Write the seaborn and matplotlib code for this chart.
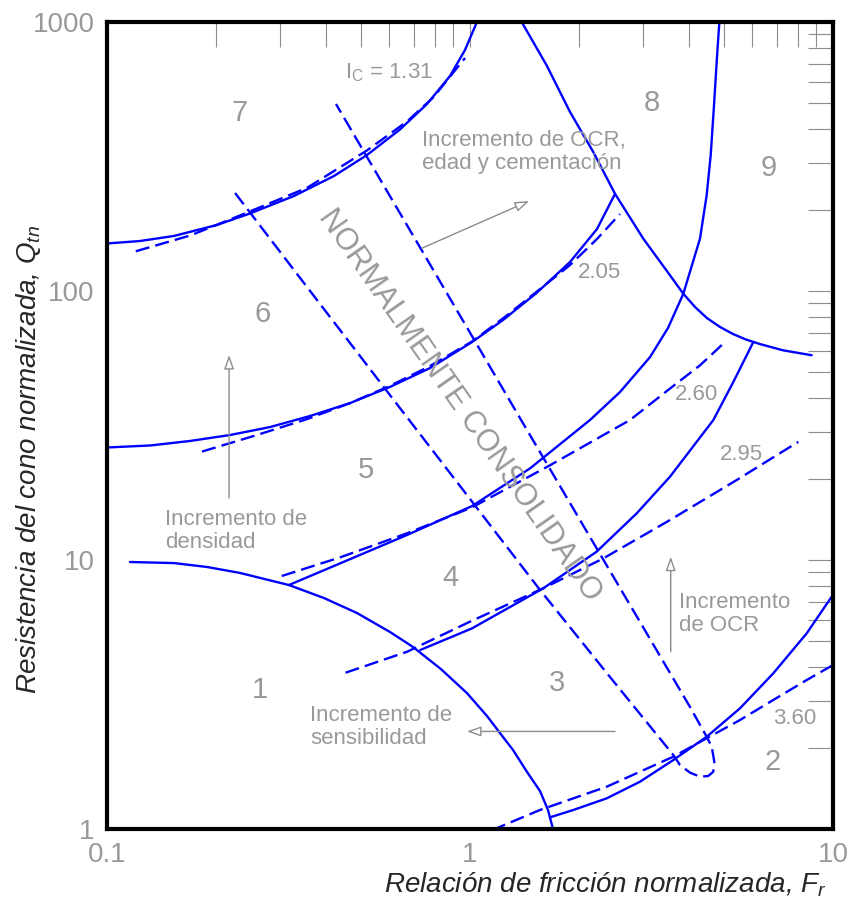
import numpy as np
import matplotlib
matplotlib.use("Agg")
import matplotlib.pyplot as plt
from matplotlib.ticker import LogLocator, NullFormatter
import seaborn as sns

# ---- Zone boundaries (solid), normalized friction ratio Fr (%) vs Qtn ----
b76_fr = [0.100, 0.1233, 0.153, 0.2009, 0.2477, 0.3275, 0.4219, 0.5203, 0.6413, 0.7613, 0.881, 0.9687, 1.045]
b76_q = [150.2, 153.4, 160.2, 176, 194.2, 225.6, 267.6, 320.3, 398.5, 495.6, 630, 787, 1000]

b65_fr = [0.100, 0.1314, 0.1693, 0.2183, 0.2812, 0.3624, 0.467, 0.602, 0.7757, 1.013, 1.233, 1.53, 1.886, 2.238, 2.508]
b65_q = [26.2, 26.65, 27.7, 29.15, 31.2, 34.3, 38.3, 44.0, 51.7, 64.6, 78.0, 98.7, 128.2, 170, 229.4]

b54_fr = [0.317, 0.439, 0.671, 1.013, 1.463, 2.141, 2.589, 3.133, 3.512, 3.870, 4.301, 4.487, 4.603, 4.701, 4.781, 4.863]
b54_q = [8.07, 9.72, 12.39, 15.87, 21.9, 33.15, 42.1, 56.8, 72.9, 97.7, 156.5, 226.8, 319.4, 490, 710, 1000]

b43_fr = [0.730, 1.013, 1.592, 2.233, 2.878, 3.556, 4.682, 5.314, 6.032]
b43_q = [4.63, 5.57, 7.85, 10.74, 14.9, 20.4, 33.15, 45.9, 64.6]

b89_fr = [1.388, 1.626, 1.886, 2.186, 2.508, 3.002, 3.556, 3.869, 4.168, 4.496, 4.884, 5.304, 5.758, 6.293, 7.28, 8.737]
b89_q = [1000, 690, 463, 328.6, 230, 156.5, 114.4, 97.7, 87.2, 79.3, 73.5, 69.2, 66.0, 63.5, 60.2, 57.7]

b1_fr = [0.1157, 0.153, 0.1886, 0.2325, 0.3172, 0.3961, 0.4884, 0.602, 0.6966, 0.832, 0.981,
         1.114, 1.209, 1.314, 1.436, 1.559, 1.640, 1.693]
b1_q = [9.83, 9.74, 9.42, 8.95, 8.07, 7.22, 6.35, 5.40, 4.75, 3.93, 3.20,
        2.63, 2.275, 1.966, 1.629, 1.384, 1.177, 1.0]

b2_fr = [1.661, 1.926, 2.380, 2.940, 3.632, 4.488, 5.544, 6.846, 8.465, 10.13]
b2_q = [1.105, 1.177, 1.30, 1.499, 1.805, 2.203, 2.81, 3.79, 5.34, 7.62]

# ---- Ic contours (dashed) ----
ic131_fr = [0.120, 0.170, 0.248, 0.356, 0.520, 0.671, 0.794, 0.902, 0.969]
ic131_q = [140.5, 161, 197.8, 242, 333, 427, 526, 652, 735]

ic205_fr = [0.1827, 0.2557, 0.3556, 0.467, 0.602, 0.7757, 1.013, 1.248, 1.559, 1.886, 2.238, 2.589]
ic205_q = [25.3, 29.0, 33.4, 38.3, 44.4, 52.6, 64.9, 80.1, 101.7, 124.9, 156.1, 193.3]

ic260_fr = [0.303, 0.439, 0.671, 1.013, 1.661, 2.760, 3.556, 4.30, 5.04]
ic260_q = [8.72, 10.23, 12.57, 15.69, 22.5, 33.15, 43.4, 52.9, 64.6]

ic295_fr = [0.454, 0.671, 1.0, 1.592, 2.330, 3.556, 5.428, 8.026]
ic295_q = [3.81, 4.56, 5.90, 7.85, 10.14, 14.08, 19.83, 27.5]

ic360_fr = [1.150, 1.559, 2.380, 3.632, 4.488, 5.544, 6.846, 8.465, 10.13]
ic360_q = [0.99, 1.177, 1.436, 1.857, 2.174, 2.542, 3.017, 3.58, 4.11]

# ---- Normally consolidated band (dashed, closed at the bottom) ----
nc_fr = [0.2253, 0.340, 0.6413, 1.0, 1.559, 2.43, 3.632, 3.789, 4.037, 4.30, 4.533,
         4.68, 4.71, 4.633, 4.488, 4.037, 2.940, 2.009, 1.373, 1.0, 0.728, 0.530, 0.4274]
nc_q = [231.4, 112, 36.7, 16.86, 7.74, 3.674, 1.884, 1.729, 1.62, 1.565, 1.574,
        1.633, 1.779, 2.023, 2.203, 2.842, 5.884, 14.08, 33.7, 70.0, 145.4, 301.8, 495.6]

# ---- Labels ----
zone_names = ["1", "2", "3", "4", "5", "6", "7", "8", "9"]
zone_fr = [0.264, 6.834, 1.737, 0.881, 0.517, 0.269, 0.2325, 3.172, 6.665]
zone_q = [3.29, 1.774, 3.49, 8.57, 21.6, 82.1, 459, 500, 286.6]

ic_names = [r"$\mathrm{I_C}$ = 1.31", "2.05", "2.60", "2.95", "3.60"]
ic_fr = [0.5965, 2.281, 4.22, 5.58, 7.86]
ic_q = [646, 116.7, 41.1, 24.6, 2.586]

x_ticks = [0.1, 1, 10]
x_ticklabels = ["0.1", "1", "10"]
y_ticks = [1, 10, 100, 1000]
y_ticklabels = ["1", "10", "100", "1000"]

BLUE = "#0000ff"
GRAY = "#999999"
ARROW_GRAY = "#8c8c8c"

sns.set_style("white")
plt.rcParams["font.family"] = ["Liberation Sans", "DejaVu Sans"]
plt.rcParams["mathtext.fontset"] = "custom"
plt.rcParams["mathtext.rm"] = "Liberation Sans"
plt.rcParams["mathtext.it"] = "Liberation Sans:italic"

fig = plt.figure(figsize=(8.48, 9.08), dpi=100)
ax = fig.add_axes([107 / 848, 1 - 829 / 908, 726 / 848, 807 / 908])
ax.set_xscale("log")
ax.set_yscale("log")

solid_curves = [(b76_fr, b76_q), (b65_fr, b65_q), (b54_fr, b54_q), (b43_fr, b43_q),
                (b89_fr, b89_q), (b1_fr, b1_q), (b2_fr, b2_q)]
dashed_curves = [(ic131_fr, ic131_q), (ic205_fr, ic205_q), (ic260_fr, ic260_q),
                 (ic295_fr, ic295_q), (ic360_fr, ic360_q), (nc_fr, nc_q)]

for fr, q in solid_curves:
    sns.lineplot(x=fr, y=q, ax=ax, sort=False, estimator=None, color=BLUE, lw=1.7)
for fr, q in dashed_curves:
    sns.lineplot(x=fr, y=q, ax=ax, sort=False, estimator=None, color=BLUE, lw=1.7,
                 linestyle=(0, (6, 2.6)))

ax.set_xlim(0.1, 10)
ax.set_ylim(1, 1000)

ax.set_xticks(x_ticks, labels=x_ticklabels)
ax.set_yticks(y_ticks, labels=y_ticklabels)
for axis in (ax.xaxis, ax.yaxis):
    axis.set_minor_locator(LogLocator(base=10, subs=np.arange(2, 10)))
    axis.set_minor_formatter(NullFormatter())
ax.tick_params(which="both", direction="in", length=18, width=0.8, color=ARROW_GRAY,
               top=True, right=True, labelsize=20, labelcolor=GRAY, pad=9)
for s in ax.spines.values():
    s.set_linewidth(3)
    s.set_color("black")
ax.grid(False)

ax.set_xlabel(r"Relación de fricción normalizada, $F_r$", fontsize=20, style="italic")
ax.set_ylabel(r"Resistencia del cono normalizada, $Q_{tn}$", fontsize=20, style="italic")
ax.xaxis.set_label_coords(0.6866, -0.0694)
ax.xaxis.label.set(ha="center", va="center")
ax.yaxis.set_label_coords(-0.108, 0.458)
ax.yaxis.label.set(ha="center", va="center")

for name, fx, qy in zip(zone_names, zone_fr, zone_q):
    ax.text(fx, qy, name, fontsize=21, color=GRAY, ha="center", va="center")
for name, fx, qy in zip(ic_names, ic_fr, ic_q):
    ax.text(fx, qy, name, fontsize=16, color=GRAY, ha="center", va="center")

ax.text(0.939, 37.7, "NORMALMENTE CONSOLIDADO", rotation=-55, rotation_mode="anchor",
        ha="center", va="center", fontsize=22, color=GRAY)

note_kw = dict(fontsize=16, color=GRAY, ha="left", va="center", linespacing=1.15)
ax.text(0.7376, 328.6, "Incremento de OCR,\nedad y cementación", **note_kw)
ax.text(0.1445, 12.82, "Incremento de\ndensidad", **note_kw)
ax.text(3.765, 6.30, "Incremento\nde OCR", **note_kw)
ax.text(0.3624, 2.395, "Incremento de\nsensibilidad", **note_kw)

arrow_kw = dict(arrowstyle="-|>,head_length=0.85,head_width=0.3", fc="white",
                ec=ARROW_GRAY, lw=1.0, shrinkA=0, shrinkB=0)
ax.annotate("", xy=(0.2169, 57.8), xytext=(0.2169, 17.0), arrowprops=arrow_kw)
ax.annotate("", xy=(1.454, 216), xytext=(0.736, 144.1), arrowprops=arrow_kw)
ax.annotate("", xy=(3.572, 10.29), xytext=(3.572, 4.56), arrowprops=arrow_kw)
ax.annotate("", xy=(0.981, 2.305), xytext=(2.508, 2.305), arrowprops=arrow_kw)

fig.savefig("out.png", dpi=100)
